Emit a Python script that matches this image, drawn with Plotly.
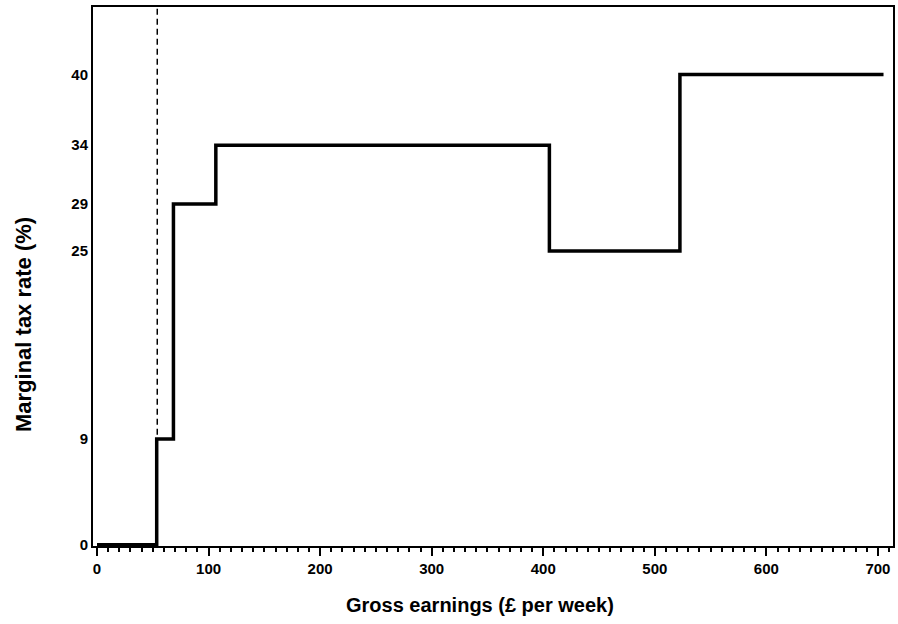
import plotly.graph_objects as go

# Step schedule: marginal tax rate (%) by gross weekly earnings (£)
earnings_breaks = [0, 53.5, 68.5, 106.5, 405.5, 522.5, 705]
tax_rates = [0, 9, 29, 34, 25, 40, 40]
lel_earnings = [54, 54]
lel_rates = [0, 46]

x_ticks = [0, 100, 200, 300, 400, 500, 600, 700]
y_ticks = [0, 9, 25, 29, 34, 40]

x_title = "Gross earnings (£ per week)"
y_title = "Marginal tax rate (%)"

fig = go.Figure()
fig.add_trace(go.Scatter(
    x=lel_earnings, y=lel_rates, mode="lines",
    line=dict(color="black", width=1.5, dash="6px,4px"),
    showlegend=False, hoverinfo="skip"))
fig.add_trace(go.Scatter(
    x=earnings_breaks, y=tax_rates, mode="lines",
    line=dict(color="black", width=3.5, shape="hv"),
    showlegend=False))

font_family = "Liberation Sans, Arial, Helvetica, sans-serif"
fig.update_layout(
    width=898, height=624,
    margin=dict(l=93, r=5, t=7, b=78, autoexpand=False),
    plot_bgcolor="white", paper_bgcolor="white",
    font=dict(family=font_family, color="black"),
    xaxis=dict(
        range=[-3.6, 713.5], tickvals=x_ticks, ticktext=[str(v) for v in x_ticks],
        ticks="outside", ticklen=8, tickwidth=2, tickcolor="black",
        minor=dict(dtick=10, ticks="outside", ticklen=4, tickwidth=1.5, tickcolor="black"),
        showline=True, linecolor="black", linewidth=2, mirror=True,
        showgrid=False, zeroline=False,
        tickfont=dict(size=15, family=font_family, weight="bold"),
    ),
    yaxis=dict(
        range=[-0.1, 45.75], tickvals=y_ticks, ticktext=[str(v) for v in y_ticks],
        ticks="", ticklabelstandoff=0,
        showline=True, linecolor="black", linewidth=2, mirror=True,
        showgrid=False, zeroline=False,
        tickfont=dict(size=15, family=font_family, weight="bold"),
    ),
    annotations=[
        dict(text=x_title, xref="paper", yref="paper", x=0.484, y=-0.1095,
             xanchor="center", yanchor="middle", showarrow=False,
             font=dict(size=20, family=font_family, weight="bold")),
        dict(text=y_title, xref="paper", yref="paper", x=-0.0875, y=0.41,
             xanchor="center", yanchor="middle", showarrow=False, textangle=-90,
             font=dict(size=22, family=font_family, weight="bold")),
    ],
)

fig.write_html("out.html", config={"displayModeBar": False},
               post_script="document.body.style.margin='0';")
